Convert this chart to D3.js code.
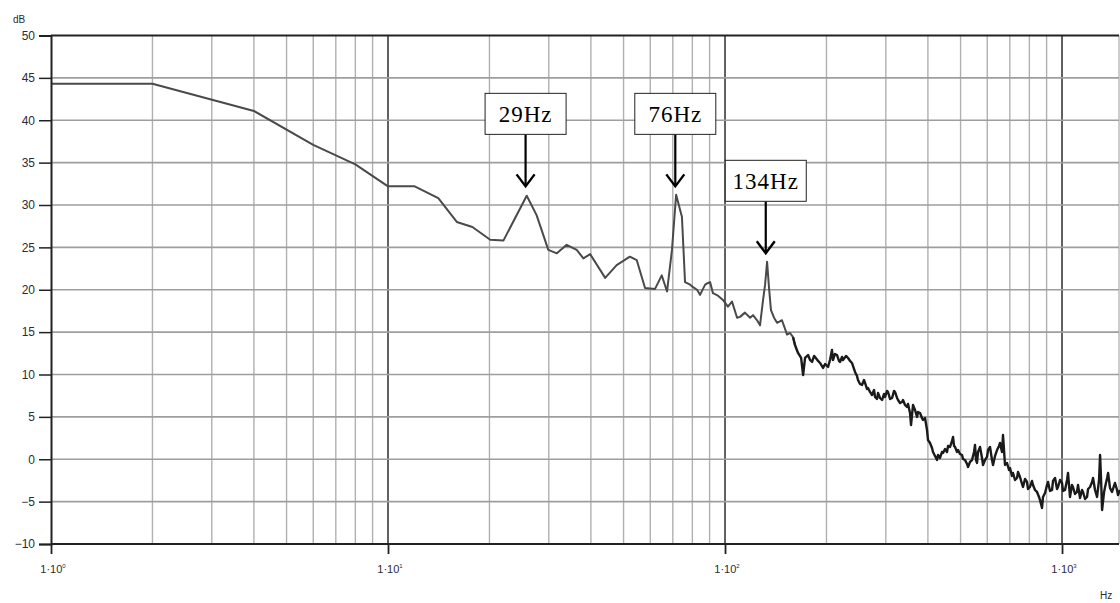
<!DOCTYPE html>
<html><head><meta charset="utf-8">
<script src="https://cdn.jsdelivr.net/npm/d3@7"></script>
<style>body{margin:0;background:#fff;} svg{display:block;}</style>
</head><body>
<svg id="chart" width="1120" height="603"></svg>
<script>
// ---- data ----
const hz = [1, 2, 4, 6, 8, 10, 12, 14.1, 16, 17.8, 20.1, 22, 25.8, 27.6, 29.9, 31.7, 33.9, 36.3, 38, 39.8,
  44.1, 47.7, 52.2, 54.7, 57.9, 62, 64.9, 67.3, 69.6, 71.6, 74.5, 76.1, 78.8, 80.4, 82.6, 84.3, 87.3, 89.1, 90.3, 92.1,
  95.3, 98.6, 102.0, 104.9, 108.6, 110.8, 114.6, 118.7, 121.1, 124.5, 127.0, 129.7, 131.5, 133.3, 135.1, 136.9, 139.8, 142.7, 147.6, 152.8,
  155.9, 159.2, 161.3, 164.7, 168.2, 170.5, 172.8, 176.4, 178.8, 181.3, 183.8, 185.0, 188.9, 191.4, 195.4, 198.1, 202.2, 204.9, 207.7, 209.1,
  212.0, 215.0, 217.9, 219.4, 222.4, 223.9, 228.6, 231.8, 234.9, 238.1, 243.1, 246.4, 248.1, 251.5, 255.0, 258.5, 260.3, 263.8, 265.7, 269.3,
  273.0, 276.8, 278.7, 282.5, 284.5, 288.4, 292.4, 296.4, 298.4, 302.6, 304.6, 308.8, 313.1, 317.4, 319.5, 324.0, 326.2, 330.6, 335.2, 337.4,
  342.1, 346.8, 349.2, 354.0, 356.4, 361.3, 366.3, 371.4, 373.9, 379.0, 384.2, 386.8, 392.2, 397.6, 400.3, 405.8, 411.4, 414.2, 419.9, 425.7,
  428.6, 434.5, 440.5, 443.5, 449.6, 455.8, 459.0, 465.3, 471.7, 474.9, 478.2, 481.5, 488.1, 491.5, 498.1, 505.0, 508.4, 515.4, 522.6, 526.1,
  533.3, 540.7, 548.1, 551.9, 555.6, 559.5, 563.3, 571.1, 579.0, 582.9, 591.0, 599.1, 603.3, 611.5, 619.9, 624.2, 632.8, 641.5, 650.3, 654.6,
  663.6, 668.2, 677.4, 686.7, 696.2, 700.9, 710.6, 715.4, 725.3, 735.3, 740.4, 750.5, 760.9, 766.0, 776.6, 787.3, 792.7, 803.5, 814.6, 820.1,
  831.5, 842.9, 854.5, 860.4, 872.3, 878.2, 890.3, 902.6, 908.8, 921.3, 934.0, 940.4, 953.4, 966.5, 973.2, 986.5, 1000.1, 1006.9, 1020.8, 1034.9,
  1042.0, 1056, 1070.6, 1077.9, 1092.7, 1107.8, 1115.5, 1131, 1146.6, 1154.4, 1170.4, 1186.5, 1194.7, 1211, 1227.7, 1236.1, 1253.1, 1270.5, 1287.9, 1297,
  1305.9, 1314.9, 1332.9, 1342.1, 1360.7, 1370.0, 1388, 1407.2, 1426.4, 1436.3, 1456.2, 1466.1, 1486];
const db = [44.3, 44.3, 41.1, 37.1, 34.8, 32.2, 32.2, 30.8, 28.0, 27.4, 25.9, 25.8, 31.1, 28.8, 24.7, 24.3, 25.3, 24.7, 23.7, 24.2,
  21.4, 22.9, 23.9, 23.5, 20.2, 20.1, 21.7, 19.8, 24.7, 31.2, 28.6, 20.9, 20.6, 20.3, 20.0, 19.4, 20.6, 20.8, 20.9, 19.6,
  19.3, 18.8, 18.0, 18.6, 16.7, 16.8, 17.3, 16.7, 17.0, 16.4, 15.8, 18.8, 20.6, 23.3, 20.2, 17.6, 16.7, 16.1, 16.4, 14.7,
  14.9, 14.4, 13.48, 12.54, 11.95, 9.94, 11.95, 12.30, 11.71, 11.48, 12.19, 12.07, 11.60, 11.36, 10.77, 11.24, 10.89, 11.71, 12.89, 11.71,
  12.42, 12.30, 11.60, 11.48, 12.07, 11.71, 12.19, 11.95, 11.60, 11.36, 10.30, 9.83, 9.35, 8.88, 8.77, 9.35, 9.00, 8.29, 8.41, 7.94,
  7.58, 8.17, 7.35, 7.11, 7.82, 7.23, 6.99, 7.70, 7.35, 8.06, 7.94, 7.11, 7.23, 8.06, 7.94, 7.23, 6.99, 6.64, 6.76, 6.99,
  6.40, 6.17, 6.52, 5.46, 4.04, 6.40, 5.81, 4.99, 5.58, 5.46, 4.87, 4.63, 4.87, 3.45, 2.27, 1.92, 1.33, 0.86, 0.39, -0.09,
  0.50, 0.15, 0.86, 0.74, 1.21, 0.86, 1.57, 1.45, 2.16, 2.63, 1.57, 1.45, 0.86, 1.09, 0.62, 0.50, 0.03, -0.09, -0.56, -0.91,
  -0.32, -0.09, 0.86, 1.68, -0.09, -0.44, 0.86, 1.45, 0.15, -0.68, -0.09, 0.27, 1.09, 1.45, -0.09, -0.68, 0.39, 1.09, 1.57, 1.92,
  0.86, 2.86, -0.68, -0.44, -1.27, -1.03, -1.97, -1.62, -2.45, -2.21, -1.50, -2.09, -2.92, -3.27, -2.33, -2.68, -3.51, -3.27, -2.56, -3.04,
  -3.63, -3.86, -4.45, -4.81, -5.75, -4.45, -3.98, -3.04, -2.68, -3.74, -3.63, -2.56, -2.21, -3.51, -3.27, -2.45, -2.80, -3.74, -3.63, -2.45,
  -1.62, -4.45, -3.04, -3.27, -4.10, -3.86, -3.04, -4.57, -3.63, -3.86, -4.69, -4.45, -3.51, -3.27, -2.68, -2.21, -3.63, -4.45, -2.45, 0.50,
  -2.45, -5.99, -3.86, -3.27, -2.21, -1.62, -3.39, -3.86, -3.15, -2.80, -3.63, -4.22, -3.63];
const yTicks = [50, 45, 40, 35, 30, 25, 20, 15, 10, 5, 0, -5, -10];
const xDecades = [1, 10, 100, 1000];
const decadeExp = ["0", "1", "2", "3"];
const annoLabels = ["29Hz", "76Hz", "134Hz"];
const annoHz = [25.6, 71.2, 132.1];
const annoDb = [32.2, 32.2, 24.3];
const noisyFrom = 159; // Hz where the trace turns into the dense, darker band

// ---- layout ----
const svg = d3.select("#chart");
const L = 51, R = 1119, T = 35.5, B = 544;
const x = d3.scaleLog().domain([1, 1476]).range([L, R]);
const y = d3.scaleLinear().domain([-10, 50]).range([B, T]);

// vertical grid
const vt = x.ticks().filter(v => v > 1 && v < 1476);
svg.append("g").selectAll("line").data(vt).join("line")
  .attr("x1", d => x(d)).attr("x2", d => x(d)).attr("y1", T).attr("y2", B)
  .attr("stroke", d => xDecades.includes(d) ? "#3a3a3a" : "#b0b0b0")
  .attr("stroke-width", d => xDecades.includes(d) ? 1.6 : 1.4);

// horizontal grid
svg.append("g").selectAll("line").data(yTicks.filter(v => v !== 50 && v !== -10)).join("line")
  .attr("x1", L).attr("x2", R).attr("y1", d => y(d)).attr("y2", d => y(d))
  .attr("stroke", "#9e9e9e").attr("stroke-width", 1.7);

// right border
svg.append("line").attr("x1", R).attr("x2", R).attr("y1", T).attr("y2", B)
  .attr("stroke", "#9a9a9a").attr("stroke-width", 1);
// top / bottom borders
[50, -10].forEach(v => svg.append("line").attr("x1", L).attr("x2", R)
  .attr("y1", y(v)).attr("y2", y(v)).attr("stroke", "#222").attr("stroke-width", 2));

// data line
svg.append("clipPath").attr("id", "clip").append("rect")
  .attr("x", L).attr("y", T - 2).attr("width", R - L + 1).attr("height", B - T + 4);
const pts = hz.map((h, i) => [h, db[i]]);
const line = d3.line().x(d => x(d[0])).y(d => y(d[1]));
svg.append("path").datum(pts.filter(d => d[0] <= noisyFrom + 3))
  .attr("clip-path", "url(#clip)")
  .attr("fill", "none").attr("stroke", "#4a4a4a").attr("stroke-width", 2)
  .attr("stroke-linejoin", "round").attr("d", line);
svg.append("path").datum(pts.filter(d => d[0] >= noisyFrom))
  .attr("clip-path", "url(#clip)")
  .attr("fill", "none").attr("stroke", "#1a1a1a").attr("stroke-width", 2.4)
  .attr("stroke-linejoin", "round").attr("d", line);

// left axis
const ya = svg.append("g").attr("transform", `translate(${L},0)`)
  .call(d3.axisLeft(y).tickValues(yTicks).tickSize(12).tickPadding(4));
ya.select(".domain").attr("stroke", "#222").attr("stroke-width", 2);
ya.selectAll(".tick line").attr("stroke", "#222").attr("stroke-width", 1.5);
ya.selectAll(".tick text").attr("font-family", "Liberation Sans, Arial, sans-serif")
  .attr("font-size", 12).attr("fill", "#2b2b38");

// bottom axis
const xa = svg.append("g").attr("transform", `translate(0,${B})`)
  .call(d3.axisBottom(x).tickValues(xDecades).tickSize(10).tickFormat(""));
xa.select(".domain").remove();
xa.selectAll(".tick line").attr("stroke", "#222").attr("stroke-width", 1.8);
const xl = svg.append("g").selectAll("text").data(xDecades).join("text")
  .attr("x", d => x(d) + 2).attr("y", 573)
  .attr("text-anchor", "middle")
  .attr("font-family", "Liberation Sans, Arial, sans-serif").attr("font-size", 11).attr("fill", "#2b2b38");
xl.append("tspan").text("1·10");
xl.append("tspan").attr("dy", -5).attr("font-size", 6).text((d, i) => decadeExp[i]);

// unit labels
svg.append("text").attr("x", 19).attr("y", 23).attr("text-anchor", "middle")
  .attr("font-family", "Liberation Sans, Arial, sans-serif")
  .attr("font-size", 10).attr("fill", "#2b2b38").text("dB");
svg.append("text").attr("x", 1100).attr("y", 599).attr("font-family", "Liberation Sans, Arial, sans-serif")
  .attr("font-size", 10).attr("fill", "#2b2b38").text("Hz");

// annotations
const ag = svg.append("g").selectAll("g").data(annoLabels).join("g")
  .attr("transform", (d, i) => `translate(${x(annoHz[i])},${y(annoDb[i])})`);
ag.append("line").attr("x1", 0).attr("x2", 0).attr("y1", -52).attr("y2", -1)
  .attr("stroke", "#000").attr("stroke-width", 2.2);
ag.append("path").attr("d", "M-9,-12 L0,0 L9,-12").attr("fill", "none")
  .attr("stroke", "#000").attr("stroke-width", 2.4);
ag.append("rect").attr("x", -40.5).attr("y", -93).attr("width", 81).attr("height", 41)
  .attr("fill", "#fff").attr("stroke", "#222").attr("stroke-width", 1);
ag.append("text").attr("x", 0).attr("y", -64).attr("text-anchor", "middle")
  .attr("font-family", "Liberation Serif, Times New Roman, serif").attr("font-size", 23)
  .attr("letter-spacing", 1).attr("fill", "#000").text(d => d);
</script>
</body></html>
